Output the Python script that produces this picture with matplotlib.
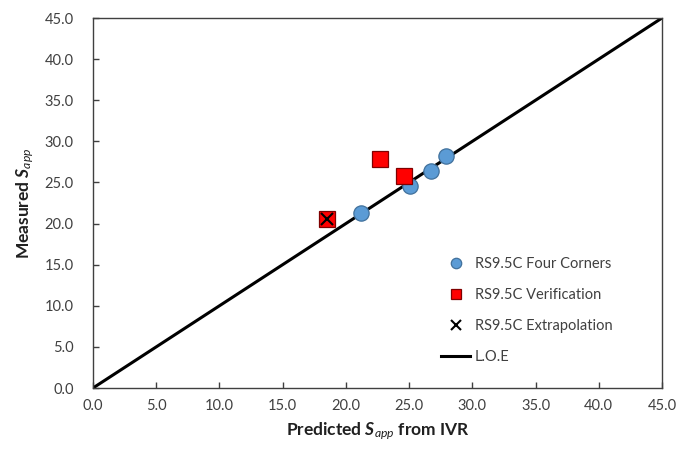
import matplotlib
matplotlib.use("Agg")
import matplotlib.pyplot as plt

plt.rcParams['font.family'] = ['Lato', 'DejaVu Sans']
plt.rcParams['mathtext.fontset'] = 'custom'
plt.rcParams['mathtext.rm'] = 'Lato'
plt.rcParams['mathtext.it'] = 'Lato:italic'
plt.rcParams['mathtext.bf'] = 'Lato:italic:bold'

# Four Corners calibration points (predicted, measured)
four_corners_pred = [21.2, 25.1, 26.7, 27.9]
four_corners_meas = [21.3, 24.6, 26.4, 28.25]

# Verification points
verif_pred = [18.5, 22.7, 24.6]
verif_meas = [20.5, 27.85, 25.8]

# Extrapolation point
extrap_pred = [18.5]
extrap_meas = [20.5]

# Line of equality
loe = [0.0, 45.0]

ticks = [0, 5, 10, 15, 20, 25, 30, 35, 40, 45]

fig = plt.figure(figsize=(6.79, 4.59), dpi=100)
ax = fig.add_axes([93/679, 1-388/459, (662-93)/679, (388-18)/459])

ax.plot(loe, loe, color='black', lw=2.2, label='L.O.E', zorder=2)
ax.plot(four_corners_pred, four_corners_meas, 'o', ls='none', ms=11,
        mfc='#5B9BD5', mec='#41719C', mew=0.9, label='RS9.5C Four Corners', zorder=3)
ax.plot(verif_pred, verif_meas, 's', ls='none', ms=11,
        mfc='#FF0000', mec='#7F0000', mew=0.9, label='RS9.5C Verification', zorder=4)
ax.plot(extrap_pred, extrap_meas, 'x', ls='none', ms=8, color='black',
        mew=1.5, label='RS9.5C Extrapolation', zorder=5)

ax.set_xlim(0, 45)
ax.set_ylim(0, 45)
ax.set_xticks(ticks)
ax.set_yticks(ticks)
ax.set_xticklabels([f"{t:.1f}" for t in ticks])
ax.set_yticklabels([f"{t:.1f}" for t in ticks])
ax.tick_params(direction='in', length=4, width=1, labelsize=10.5,
               labelcolor='#404040', color='#404040')
ax.tick_params(axis='x', pad=8)
ax.tick_params(axis='y', pad=14)
for s in ax.spines.values():
    s.set_color('#404040')
    s.set_linewidth(1.0)

ax.set_xlabel(r"Predicted $\mathbf{S}_{\mathit{app}}$ from IVR",
              fontsize=12.5, fontweight='bold', color='#202020', labelpad=5)
ax.set_ylabel(r"Measured $\mathbf{S}_{\mathit{app}}$",
              fontsize=12.5, fontweight='bold', color='#202020', labelpad=6)

handles, labels = ax.get_legend_handles_labels()
order = [1, 2, 3, 0]
leg = ax.legend([handles[i] for i in order], [labels[i] for i in order],
                loc='upper left', bbox_to_anchor=(0.612, 0.355), frameon=False,
                fontsize=10.5, labelspacing=1.17, handlelength=2.0,
                handletextpad=0.3, borderaxespad=0, borderpad=0)
for t in leg.get_texts():
    t.set_color('#404040')
for h in leg.legend_handles:
    if hasattr(h, 'set_markersize') and h.get_marker() in ('o', 's'):
        h.set_markersize(7.5)
    if hasattr(h, 'set_markersize') and h.get_marker() == 'x':
        h.set_markersize(7)

fig.savefig('out.png', dpi=100)
